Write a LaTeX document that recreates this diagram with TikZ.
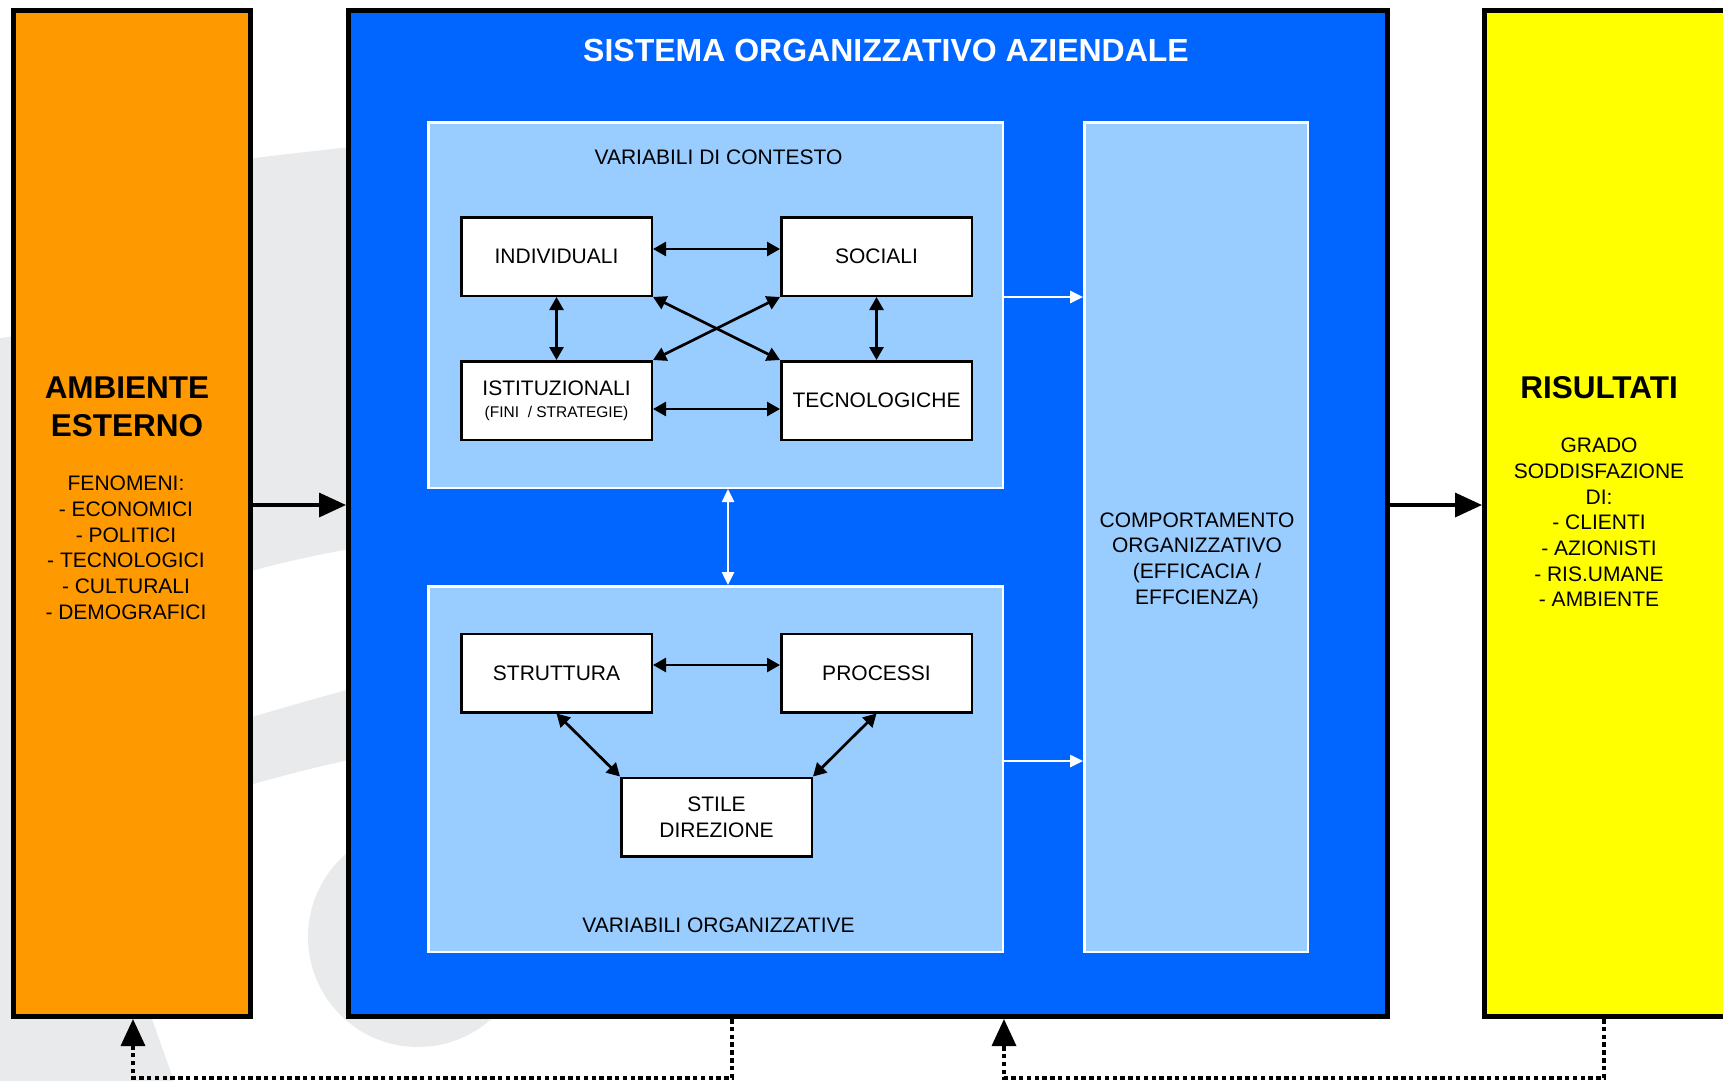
\documentclass[tikz,border=0pt]{standalone}
\usepackage{fontspec}
\setmainfont{Liberation Sans}
\usepackage{xcolor}
\usepackage{tikz}
\usetikzlibrary{arrows.meta}
\definecolor{ambient}{HTML}{FF9900}
\definecolor{system}{HTML}{0066FF}
\definecolor{variables}{HTML}{99CCFF}
\definecolor{results}{HTML}{FFFF00}
\definecolor{watermark}{HTML}{E9EAEC}
\tikzset{
%%%%%%%%%%  Node styles
bigbox/.style={draw=black, line width=5pt, inner sep=0pt},
varbox/.style={draw=white, fill=variables, line width=2.5pt, inner sep=0pt},
factor/.style={draw=black, fill=white, line width=2.5pt, inner sep=0pt,
               minimum width=190.5pt, minimum height=78.5pt, align=center,
               font=\fontsize{21}{25.6}\selectfont},
plaintext/.style={align=center, inner sep=0pt,
                  font=\fontsize{21}{25.7}\selectfont},
heading/.style={align=center, inner sep=0pt,
                font=\fontsize{31.5}{38.5}\selectfont\bfseries},
%%%%%%% arrow styles
flow/.style={line width=3.5pt, -{Triangle[length=27pt,width=24pt]}},
twoway/.style={line width=2.7pt,
               {Triangle[length=13pt,width=14pt]}-{Triangle[length=13pt,width=14pt]}},
whiteflow/.style={draw=white, line width=2.5pt,
                  -{Triangle[length=13pt,width=12pt]}},
whitetwoway/.style={draw=white, line width=2.5pt,
                    {Triangle[length=13pt,width=12pt]}-{Triangle[length=13pt,width=12pt]}},
%% dotted return lines
feedback/.style={line width=3.5pt, dash pattern=on 4.5pt off 3.3pt,
                 -{Triangle[length=27pt,width=24pt]}}
}

\begin{document}
\begin{tikzpicture}[x=1pt,y=-1pt]
\useasboundingbox (0,0) rectangle (1723,1081);
\clip (0,0) rectangle (1723,1081);
%%background swoosh
\fill[watermark] (150,171) .. controls (230,161) and (300,152) .. (380,144)
	-- (380,544) .. controls (300,556) and (230,575) .. (150,602) -- cycle;
\fill[watermark] (150,746) .. controls (230,724) and (300,702) .. (380,681)
	-- (380,754) .. controls (300,768) and (230,792) .. (150,812) -- cycle;
\fill[watermark] (0,338) -- (60,330) -- (60,1019) -- (152,1019) -- (174,1081)
	-- (0,1081) -- cycle;
\fill[watermark] (418,937) circle [radius=110pt];
%%outer boxes
\node[bigbox, fill=ambient, minimum width=237pt, minimum height=1006pt] (amb) at (132,513.5) {};
\node[bigbox, fill=system, minimum width=1039pt, minimum height=1006pt] (sis) at (868,513.5) {};
\node[bigbox, fill=results, minimum width=300pt, minimum height=1006pt] (ris) at (1634.5,513.5) {};
\node[text=white, inner sep=0pt, font=\fontsize{32}{38}\selectfont\bfseries] (title) at (886,50) {SISTEMA ORGANIZZATIVO AZIENDALE};
%%side texts
\node[heading] (ambtitle) at (127,407) {AMBIENTE\\ESTERNO};
\node[plaintext] (ambtext) at (126,547.75) {FENOMENI:\\- ECONOMICI\\- POLITICI\\- TECNOLOGICI\\- CULTURALI\\- DEMOGRAFICI};
\node[heading] (ristitle) at (1599,388) {RISULTATI};
\node[plaintext] (ristext) at (1599,522.5) {GRADO\\SODDISFAZIONE\\DI:\\- CLIENTI\\- AZIONISTI\\- RIS.UMANE\\- AMBIENTE};
%%variable areas
\node[varbox, minimum width=574.5pt, minimum height=365.5pt] (ctx) at (715.5,305) {};
\node[varbox, minimum width=574.5pt, minimum height=365.5pt] (org) at (715.5,769) {};
\node[varbox, minimum width=223.5pt, minimum height=829.5pt] (comp) at (1196,537) {};
\node[plaintext] (ctxlabel) at (718.5,157.5) {VARIABILI DI CONTESTO};
\node[plaintext] (orglabel) at (718.5,925) {VARIABILI ORGANIZZATIVE};
\node[plaintext] (complabel) at (1197,560.5) {COMPORTAMENTO\\ORGANIZZATIVO\\(EFFICACIA /\\EFFCIENZA)};
%%context factors
\node[factor] (ind) at (556.5,256.5) {INDIVIDUALI};
\node[factor] (soc) at (876.5,256.5) {SOCIALI};
\node[factor] (ist) at (556.5,400.5) {ISTITUZIONALI\\[-4pt]{\fontsize{15.5}{19}\selectfont (FINI\ \ / STRATEGIE)}};
\node[factor] (tec) at (876.5,400.5) {TECNOLOGICHE};
%%organisation factors
\node[factor] (str) at (556.5,673) {STRUTTURA};
\node[factor] (pro) at (876.5,673) {PROCESSI};
\node[factor] (sti) at (716.5,817) {STILE\\DIREZIONE};
%%links between factors
\coordinate (yind) at (0,249);
\coordinate (yist) at (0,409);
\coordinate (ystr) at (0,665);
\draw[twoway] (ind.east |- yind) -- (soc.west |- yind);
\draw[twoway] (ist.east |- yist) -- (tec.west |- yist);
\draw[twoway] (ind) -- (ist);
\draw[twoway] (soc) -- (tec);
\draw[twoway] (ind.south east) -- (tec.north west);
\draw[twoway] (ist.north east) -- (soc.south west);
\draw[twoway] (str.east |- ystr) -- (pro.west |- ystr);
\draw[twoway] (str.south) -- (sti.north west);
\draw[twoway] (pro.south) -- (sti.north east);
%%white arrows
\coordinate (xmid) at (728,0);
\coordinate (yctx) at (0,297);
\coordinate (yorg) at (0,761);
\draw[whitetwoway] (ctx.south -| xmid) -- (org.north -| xmid);
\draw[whiteflow] (ctx.east |- yctx) -- (comp.west |- yctx);
\draw[whiteflow] (org.east |- yorg) -- (comp.west |- yorg);
%%main flow
\coordinate (yflow) at (0,505);
\draw[flow] (amb.east |- yflow) -- (sis.west |- yflow);
\draw[flow] (sis.east |- yflow) -- (ris.west |- yflow);
%%feedback lines
\coordinate (fbA) at (732,1078);
\coordinate (fbB) at (133,1078);
\coordinate (fbC) at (1604,1078);
\coordinate (fbD) at (1004,1078);
\draw[feedback] (sis.south -| fbA) -- (fbA) -- (fbB) -- (amb.south -| fbB);
\draw[feedback] (ris.south -| fbC) -- (fbC) -- (fbD) -- (sis.south -| fbD);
\end{tikzpicture}
\end{document}
